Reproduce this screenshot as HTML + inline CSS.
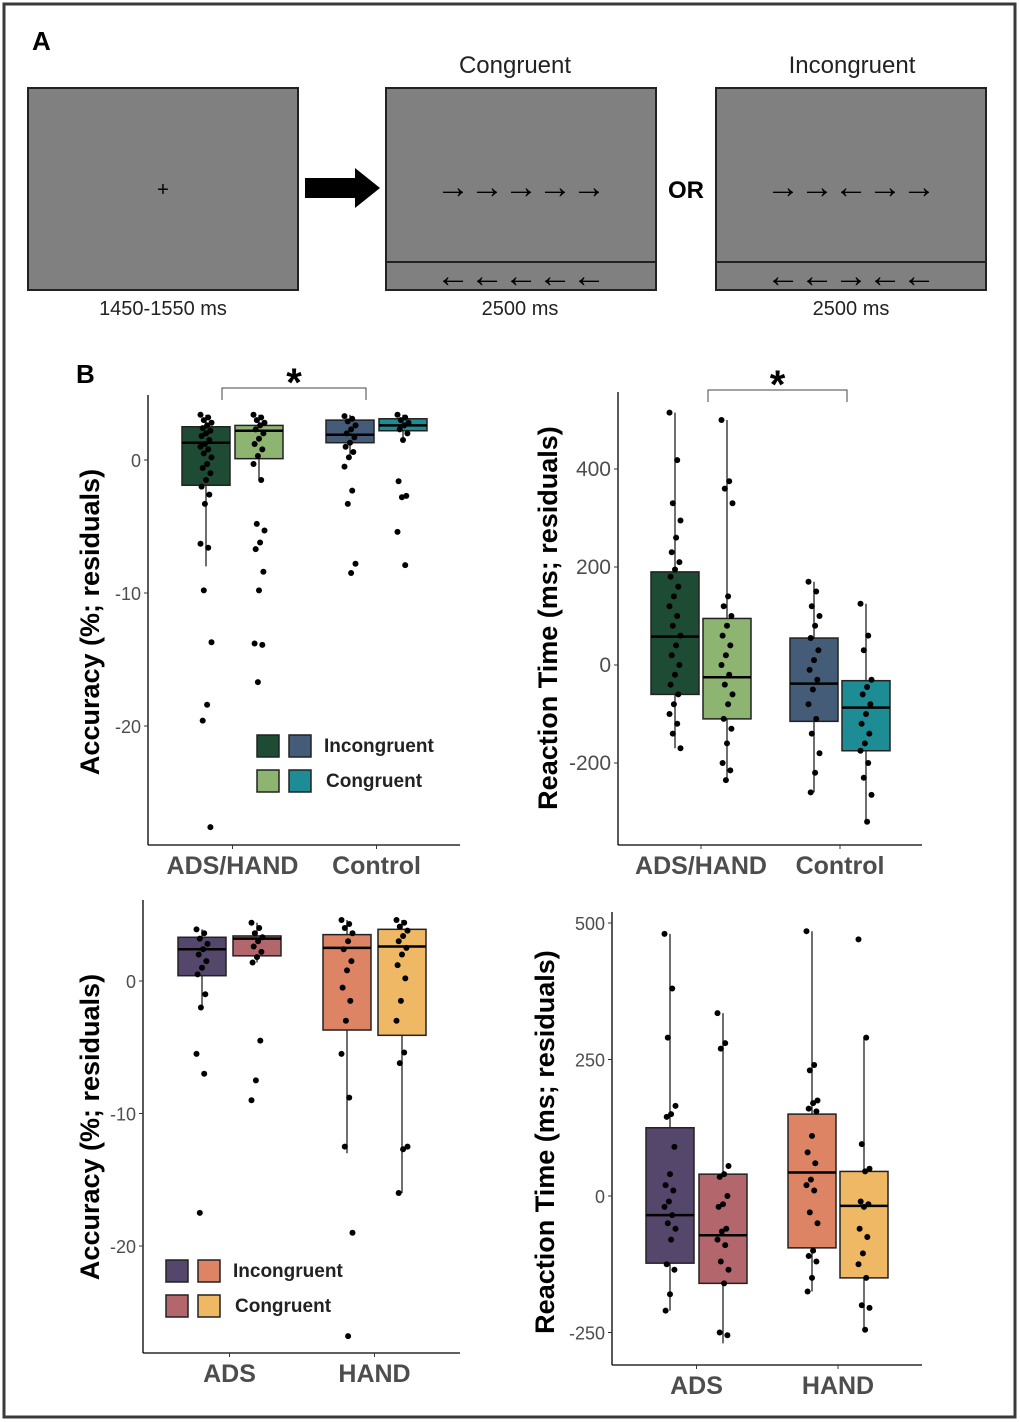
<!DOCTYPE html>
<html><head><meta charset="utf-8"><style>
body{margin:0;background:#fff;}
svg{display:block;font-family:"Liberation Sans",sans-serif;}
</style></head><body>
<svg id="fig" width="1020" height="1422" viewBox="0 0 1020 1422">
<rect x="4" y="4" width="1011" height="1413" fill="#fff" stroke="#3a3a3a" stroke-width="3"/>
<g>
<text x="32" y="50" font-size="26" font-weight="bold">A</text>
<rect x="28" y="88" width="270" height="202" fill="#808080" stroke="#222" stroke-width="2"/>
<text x="163" y="196" font-size="20" text-anchor="middle">+</text>
<text x="163" y="315" font-size="20" text-anchor="middle" fill="#222">1450-1550 ms</text>
<polygon points="305,178 355,178 355,168 380,188 355,208 355,198 305,198" fill="#000"/>
<text x="515" y="73" font-size="24" text-anchor="middle" fill="#222">Congruent</text>
<rect x="386" y="88" width="270" height="202" fill="#808080" stroke="#222" stroke-width="2"/>
<line x1="386" y1="262" x2="656" y2="262" stroke="#222" stroke-width="2"/>
<text x="521" y="198" font-size="34" text-anchor="middle">→→→→→</text>
<text x="521" y="287" font-size="34" text-anchor="middle">←←←←←</text>
<text x="520" y="315" font-size="20" text-anchor="middle" fill="#222">2500 ms</text>
<text x="686" y="198" font-size="24" font-weight="bold" text-anchor="middle">OR</text>
<text x="852" y="73" font-size="24" text-anchor="middle" fill="#222">Incongruent</text>
<rect x="716" y="88" width="270" height="202" fill="#808080" stroke="#222" stroke-width="2"/>
<line x1="716" y1="262" x2="986" y2="262" stroke="#222" stroke-width="2"/>
<text x="851" y="198" font-size="34" text-anchor="middle">→→←→→</text>
<text x="851" y="287" font-size="34" text-anchor="middle">←←→←←</text>
<text x="851" y="315" font-size="20" text-anchor="middle" fill="#222">2500 ms</text>
</g>
<text x="76" y="383" font-size="26" font-weight="bold">B</text>
</svg>
<script>
// Panel 1: Accuracy, ADS/HAND vs Control
const p1Stats = [ // [lowWhisker, q1, median, q3, highWhisker]
  [-8, -1.9, 1.3, 2.5, 3.4],
  [-1.5, 0.1, 2.2, 2.6, 3.4],
  [0.2, 1.3, 1.9, 3.0, 3.4],
  [1.5, 2.2, 2.6, 3.1, 3.4]];
const p1Points = [
  [3.4,3.2,3.0,2.8,2.6,2.4,2.2,2.0,1.8,1.5,1.2,1.0,0.8,0.5,0.2,-0.3,-0.6,-1.0,-1.5,-2.0,-2.6,-3.3,-6.3,-6.6,-9.8,-13.7,-18.4,-19.6,-27.6],
  [3.4,3.2,3.0,2.8,2.6,2.3,2.0,1.6,1.2,0.8,0.3,-0.3,-1.5,-4.8,-5.3,-6.2,-6.7,-8.4,-9.8,-13.8,-13.9,-16.7],
  [3.3,3.1,2.9,2.6,2.3,2.0,1.7,1.3,1.0,0.6,0.2,-0.5,-2.3,-3.3,-7.8,-8.5],
  [3.4,3.2,3.0,2.8,2.6,2.3,2.0,1.5,-1.6,-2.7,-2.8,-5.4,-7.9]];
const p1Ticks = [0,-10,-20];
// Panel 2: Reaction time, ADS/HAND vs Control
const p2Stats = [
  [-170, -60, 58, 190, 515],
  [-235, -110, -25, 95, 500],
  [-260, -115, -38, 55, 170],
  [-320, -175, -87, -32, 125]];
const p2Points = [
  [515,418,330,295,260,230,210,195,180,160,140,120,100,80,60,40,20,0,-20,-40,-60,-80,-100,-120,-140,-170],
  [500,375,360,330,140,120,100,80,60,40,20,0,-20,-40,-60,-80,-110,-130,-160,-200,-215,-235],
  [170,150,120,100,80,55,30,10,-10,-30,-50,-80,-110,-140,-180,-220,-260],
  [125,60,30,-30,-45,-60,-80,-100,-120,-140,-160,-175,-200,-230,-265,-320]];
const p2Ticks = [400,200,0,-200];
// Panel 3: Accuracy, ADS vs HAND
const p3Stats = [
  [-2, 0.4, 2.4, 3.3, 3.9],
  [1.4, 1.9, 3.2, 3.4, 4.4],
  [-13, -3.7, 2.5, 3.5, 4.6],
  [-16, -4.1, 2.6, 3.9, 4.6]];
const p3Points = [
  [3.9,3.6,3.2,2.8,2.4,2.0,1.5,1.0,0.5,-1.0,-2.0,-5.5,-7.0,-17.5],
  [4.4,4.0,3.6,3.3,3.0,2.6,2.2,1.8,1.4,-4.5,-7.5,-9.0],
  [4.6,4.3,4.0,3.6,3.0,2.4,1.5,0.8,-0.5,-1.5,-3.0,-5.5,-8.8,-12.5,-19,-26.8],
  [4.6,4.4,4.1,3.8,3.4,3.0,2.5,2.0,1.2,0.2,-1.5,-3.0,-5.4,-6.2,-12.5,-12.7,-16]];
const p3Ticks = [0,-10,-20];
// Panel 4: Reaction time, ADS vs HAND
const p4Stats = [
  [-210, -123, -35, 125, 480],
  [-270, -160, -72, 40, 335],
  [-175, -95, 43, 150, 485],
  [-245, -150, -18, 45, 290]];
const p4Points = [
  [480,380,290,165,150,145,90,40,20,10,-10,-20,-35,-50,-60,-80,-125,-135,-180,-210],
  [335,280,270,55,40,35,0,-15,-20,-60,-65,-80,-90,-120,-135,-160,-250,-255],
  [485,240,230,175,170,160,155,110,80,60,30,20,10,-30,-50,-100,-110,-120,-150,-175],
  [470,290,95,50,45,-10,-15,-20,-60,-75,-105,-125,-150,-200,-205,-245]];
const p4Ticks = [500,250,0,-250];

const NS = 'http://www.w3.org/2000/svg';
const svg = document.getElementById('fig');
function mk(tag, attrs, parent){
  const e = document.createElementNS(NS, tag);
  for (const k in attrs) e.setAttribute(k, attrs[k]);
  (parent||svg).appendChild(e);
  return e;
}
function panel(cfg){
  const g = mk('g', {});
  
  
  const y = v => cfg.y0 + (v - cfg.v0) * cfg.k;
  const ya = mk('line', {x1:cfg.ax, y1:cfg.top, x2:cfg.ax, y2:cfg.bot, stroke:'#000','stroke-width':1.3}, g);
  
  
  const xa = mk('line', {x1:cfg.ax, y1:cfg.bot, x2:cfg.right, y2:cfg.bot, stroke:'#000','stroke-width':1.3}, g);
  
  
  cfg.ticks.forEach(t => {
    mk('line', {x1:cfg.ax-4, y1:y(t), x2:cfg.ax, y2:y(t), stroke:'#333','stroke-width':1}, g);
    const tl = mk('text', {x:cfg.ax-7, y:y(t)+7, 'font-size':cfg.tfs||18, 'text-anchor':'end', fill:'#4d4d4d'}, g);
    tl.textContent = t;
    
    
  });
  cfg.xlabels.forEach((l, i) => {
    const cx = (cfg.cx[2*i] + cfg.cx[2*i+1]) / 2;
    mk('line', {x1:cx, y1:cfg.bot, x2:cx, y2:cfg.bot+4, stroke:'#333'}, g);
    const t = mk('text', {x:cx, y:cfg.bot+29, 'font-size':25, 'font-weight':'bold', 'text-anchor':'middle', fill:'#4d4d4d'}, g);
    t.textContent = l;
    
    
  });
  const yt = mk('text', {x:0, y:0, 'font-size':27, 'font-weight':'bold', 'text-anchor':'middle', transform:`translate(${cfg.tx},${cfg.ty}) rotate(-90)`}, g);
  yt.textContent = cfg.title;
  
  
  cfg.stats.forEach((s, i) => {
    const cx = cfg.cx[i], hw = 24;
    const w = mk('line', {x1:cx, y1:y(s[0]), x2:cx, y2:y(s[4]), stroke:'#222','stroke-width':1.3}, g);
    
    
    const b = mk('rect', {x:cx-hw, y:y(Math.max(s[1],s[3])), width:2*hw, height:Math.abs(y(s[3])-y(s[1])), fill:cfg.colors[i], stroke:'#222','stroke-width':1.5}, g);
    
    
    const m = mk('line', {x1:cx-hw, y1:y(s[2]), x2:cx+hw, y2:y(s[2]), stroke:'#000','stroke-width':2.5}, g);
    
    
    cfg.points[i].forEach((v, j) => {
      const jit = ((j * 7) % 11 - 5) * 1.1;
      const p = mk('circle', {cx:cx+jit, cy:y(v), r:3, fill:'#000'}, g);
      
      
    });
  });
  if (cfg.bracket){
    const [x1, x2, by] = cfg.bracket;
    const br = mk('path', {d:`M${x1},${by+12} V${by} H${x2} V${by+12}`, fill:'none', stroke:'#444','stroke-width':1}, g);
    
    
    const st = mk('text', {x:(x1+x2)/2, y:by+8, 'font-size':40, 'font-weight':'bold', 'text-anchor':'middle'}, g);
    st.textContent = '*';
    
    
  }
  if (cfg.legend){
    const [lx, ly] = cfg.legend;
    const lg = mk('g', {}, g);
    
    
    [[0,2,'Incongruent'],[1,3,'Congruent']].forEach((r, ri) => {
      const yy = ly + ri*35;
      mk('rect', {x:lx, y:yy, width:22, height:22, fill:cfg.colors[r[0]], stroke:'#222','stroke-width':1.5}, lg);
      mk('rect', {x:lx+32, y:yy, width:22, height:22, fill:cfg.colors[r[1]], stroke:'#222','stroke-width':1.5}, lg);
      const t = mk('text', {x:lx+67+ri*2, y:yy+17, 'font-size':19, 'font-weight':'bold', fill:'#222'}, lg);
      t.textContent = r[2];
      
      
    });
  }
}
const greens = ['#1e4b33','#8db571','#455c78','#1d8c94'];
const warm = ['#54476b','#b4666d','#dc8464','#efb865'];
panel({name:'accuracy-group-plot', ax:148, top:395, bot:845, right:460, y0:460, v0:0, k:-13.3,
  ticks:p1Ticks, stats:p1Stats, points:p1Points, cx:[206,259,350,403], colors:greens,
  groups:['ads-hand-incongruent','ads-hand-congruent','control-incongruent','control-congruent'],
  xlabels:['ADS/HAND','Control'], title:'Accuracy (%; residuals)', tx:99, ty:622,
  bracket:[222,366,388], legend:[257,735]});
panel({name:'rt-group-plot', ax:618, top:392, bot:845, right:922, y0:665, v0:0, k:-0.49, tfs:21,
  ticks:p2Ticks, stats:p2Stats, points:p2Points, cx:[675,727,814,866], colors:greens,
  groups:['ads-hand-incongruent','ads-hand-congruent','control-incongruent','control-congruent'],
  xlabels:['ADS/HAND','Control'], title:'Reaction Time (ms; residuals)', tx:557, ty:618,
  bracket:[708,847,390]});
panel({name:'accuracy-subgroup-plot', ax:143, top:900, bot:1353, right:460, y0:981, v0:0, k:-13.25,
  ticks:p3Ticks, stats:p3Stats, points:p3Points, cx:[202,257,347,402], colors:warm,
  groups:['ads-incongruent','ads-congruent','hand-incongruent','hand-congruent'],
  xlabels:['ADS','HAND'], title:'Accuracy (%; residuals)', tx:99, ty:1127,
  legend:[166,1260]});
panel({name:'rt-subgroup-plot', ax:612, top:912, bot:1365, right:922, y0:1196, v0:0, k:-0.546,
  ticks:p4Ticks, stats:p4Stats, points:p4Points, cx:[670,723,812,864], colors:warm,
  groups:['ads-incongruent','ads-congruent','hand-incongruent','hand-congruent'],
  xlabels:['ADS','HAND'], title:'Reaction Time (ms; residuals)', tx:554, ty:1142});
</script>
</body></html>
